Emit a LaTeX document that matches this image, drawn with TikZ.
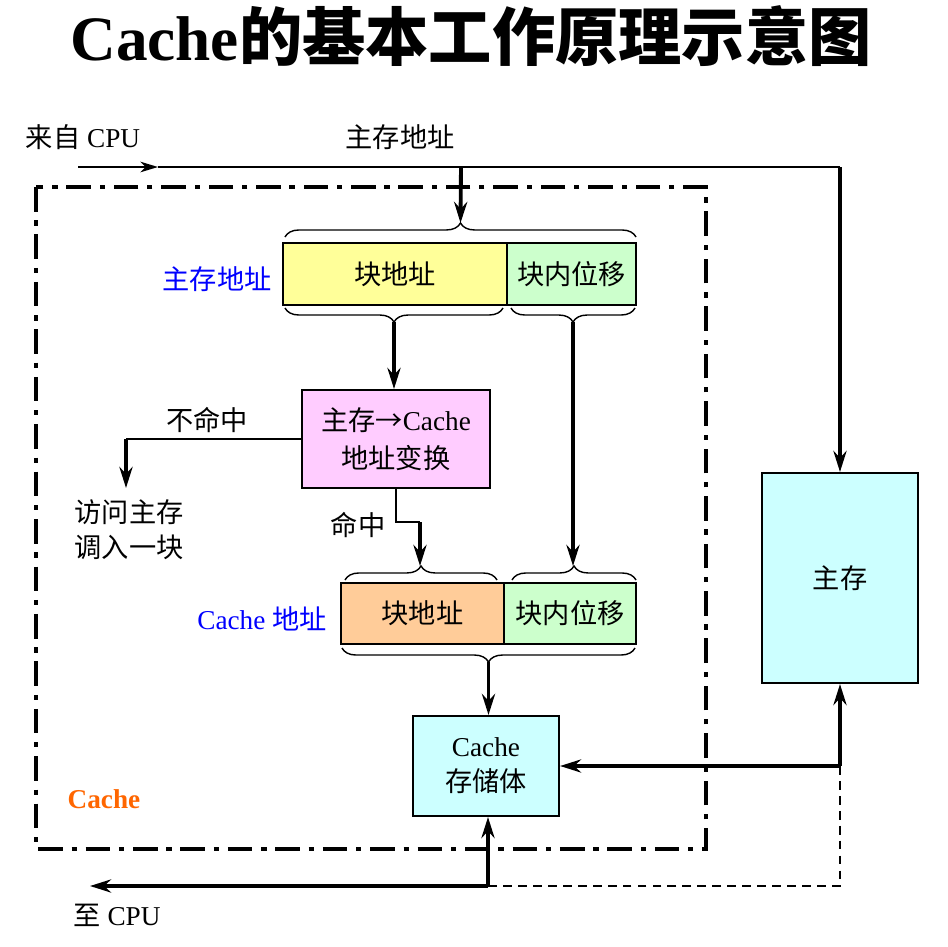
\documentclass[tikz,border=0pt]{standalone}
\usepackage{fontspec}
\setmainfont{Liberation Serif}
\newfontfamily\cjk{Noto Sans CJK SC}
\usetikzlibrary{positioning,arrows.meta,calc,decorations.pathreplacing}
\definecolor{addrY}{HTML}{FFFF99}
\definecolor{offG}{HTML}{CCFFCC}
\definecolor{convP}{HTML}{FFCCFF}
\definecolor{caddrO}{HTML}{FFCC99}
\definecolor{memC}{HTML}{CCFFFF}
\definecolor{lblB}{HTML}{0000FF}
\definecolor{lblO}{HTML}{FF6600}

\begin{document}
\begin{tikzpicture}[
  x=0.02cm, y=-0.02cm,
  font=\fontsize{15.5}{20}\selectfont,
  >={Stealth[length=12pt,width=7.5pt,inset=4pt]},
  zh/.style={font=\fontsize{15.5}{20}\selectfont\cjk},
  box/.style={draw, line width=1.2pt, inner sep=0pt, align=center},
  thinl/.style={line width=1.2pt},
  thickl/.style={line width=2.2pt},
  arrow/.style={->, thickl},
  brc/.style={decorate, decoration={brace, amplitude=8pt}, line width=0.8pt},
  dashdot/.style={line width=2pt, dash pattern=on 14pt off 5pt on 3pt off 5pt},
]
\useasboundingbox (0,0) rectangle (948,947);

% Title
\node (title) at (471,36) {\fontsize{36}{40}\selectfont\bfseries Cache{\cjk 的基本工作原理示意图}};

% Cache frame
\draw[dashdot] (36,187) rectangle (706,849);
\node[text=lblO, font=\fontsize{15.5}{20}\selectfont\bfseries] (cachelbl) at (104,799) {Cache};

% Main memory address
\node[box, fill=addrY, minimum width=4.48cm, minimum height=1.24cm, zh] (mblk) at (395,274) {块地址};
\node[box, fill=offG, minimum width=2.58cm, minimum height=1.24cm, zh] (moff) at (571.5,274) {块内位移};
\node[zh, text=lblB] (mlbl) at (217,279) {主存地址};

% Address translation
\node[box, fill=convP, minimum width=3.76cm, minimum height=1.96cm] (conv) at (396,439)
  {{\cjk 主存→}Cache\\[2pt]{\cjk 地址变换}};

% Cache address
\node[box, fill=caddrO, minimum width=3.26cm, minimum height=1.22cm, zh] (cblk) at (422.5,613.5) {块地址};
\node[box, fill=offG, minimum width=2.64cm, minimum height=1.22cm, zh] (coff) at (570,613.5) {块内位移};
\node[text=lblB] (clbl) at (262,619) {Cache {\cjk 地址}};

% Storage and main memory
\node[box, fill=memC, minimum width=2.92cm, minimum height=2cm] (store) at (486,766) {Cache\\{\cjk 存储体}};
\node[box, fill=memC, minimum width=3.12cm, minimum height=4.2cm, zh] (mem) at (840,578) {主存};

% Braces
\draw[brc] (285,237) -- (636,237) coordinate[midway, yshift=8pt] (tmtop);
\draw[brc] (503,308) -- (285,308) coordinate[midway, yshift=-8pt] (tmblk);
\draw[brc] (635,308) -- (511,308) coordinate[midway, yshift=-8pt] (tmoff);
\draw[brc] (345,580) -- (497,580) coordinate[midway, yshift=8pt] (tcblk);
\draw[brc] (512,580) -- (636,580) coordinate[midway, yshift=8pt] (tcoff);
\draw[brc] (635,648) -- (342,648) coordinate[midway, yshift=-8pt] (tcbot);

% Texts
\node (fromcpu) at (83,137) {{\cjk 来自} CPU};
\node[zh] (addrtxt) at (400,137) {主存地址};
\node[zh] (misslbl) at (207,420) {不命中};
\node[zh, align=left] (misstxt) at (129,530) {访问主存\\调入一块};
\node[zh] (hitlbl) at (358,525) {命中};
\node (tocpu) at (117,915) {{\cjk 至} CPU};

% Junctions
\coordinate (cpuin) at (78,167);
\coordinate (cpuarr) at (158,167);
\coordinate (tapA) at (461,167);
\coordinate (topR) at (840,167);
\coordinate (missc) at (126,439);
\coordinate (missend) at (126,488);
\coordinate (hitc) at (420,522);
\coordinate (rc) at (840,766);
\coordinate (bc) at (488,886);
\coordinate (cpuout) at (90,886);

% Flows
\draw[thinl, -{Stealth[length=10pt,width=6pt,inset=3pt]}] (cpuin) -- (cpuarr);
\draw[thinl] (cpuarr) -- (topR);
\draw[arrow] (topR) -- (mem.north);
\draw[arrow] (tapA) -- (tmtop);
\draw[arrow] (tmblk) -- (tmblk |- conv.north);
\draw[thinl] (conv.west) -- (missc);
\draw[arrow] (missc) -- (missend);
\draw[thinl] (conv.south) |- (hitc);
\draw[arrow] (hitc) -- (hitc |- tcblk);
\draw[arrow] (tmoff) -- (tmoff |- tcoff);
\draw[arrow] (tcbot) -- (tcbot |- store.north);
\draw[arrow] (rc) -- (mem.south);
\draw[arrow] (rc) -- (store.east);
\draw[line width=1.5pt, dash pattern=on 5pt off 3.5pt] (rc) |- (bc);
\draw[arrow] (bc) -- (bc |- store.south);
\draw[arrow] (bc) -- (cpuout);
\end{tikzpicture}
\end{document}
